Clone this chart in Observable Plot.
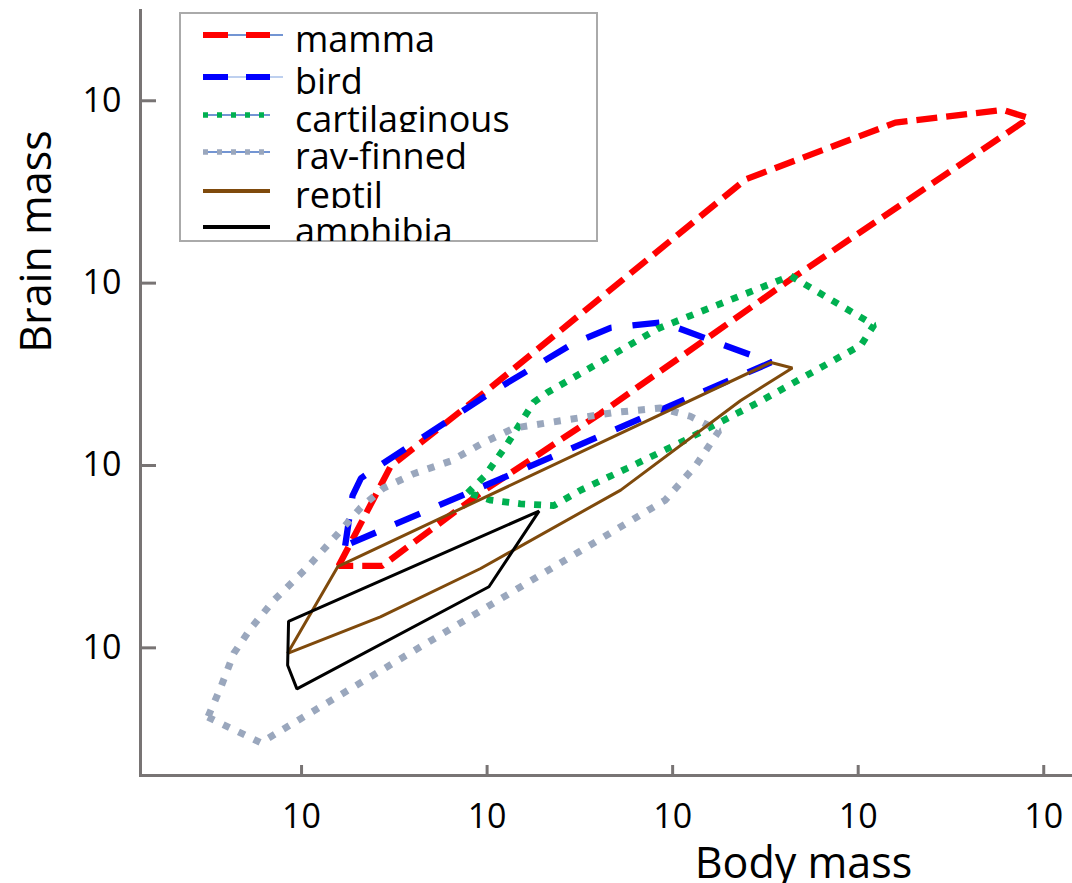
<!DOCTYPE html>
<html><head><meta charset="utf-8">
<script src="https://cdn.jsdelivr.net/npm/d3@7"></script>
<script src="https://cdn.jsdelivr.net/npm/@observablehq/plot@0.6"></script>
<style>
body{margin:0;background:#fff;font-family:"Open Sans",sans-serif;}
#wrap{position:relative;width:1072px;height:883px;overflow:hidden;}
</style></head><body><div id="wrap"></div>
<script>
// ---- data: outline vertices, log10(body mass) / log10(brain mass) ----
const species = ["mamma", "bird", "cartilaginous", "ray-finned", "reptil", "amphibia"];

const mammaBody  = [0.40, 0.96, 2.02, 4.79, 6.40, 7.56, 7.84, 5.27, 3.22, 1.93, 0.87];
const mammaBrain = [-1.10, -0.01, 0.84, 3.14, 3.76, 3.90, 3.81, 2.04, 0.57, -0.30, -1.10];

const birdBody  = [0.47, 0.55, 0.64, 0.77, 2.01, 2.93, 3.33, 3.89, 5.06];
const birdBrain = [-0.88, -0.33, -0.14, -0.05, 0.78, 1.34, 1.51, 1.57, 1.13];

const cartBody  = [1.79, 1.98, 2.22, 2.50, 2.65, 3.84, 5.27, 6.17, 6.03, 4.92, 4.12, 3.51, 3.01, 2.72, 2.36, 2.04];
const cartBrain = [-0.30, -0.11, 0.24, 0.69, 0.80, 1.50, 2.08, 1.54, 1.32, 0.69, 0.27, -0.03, -0.27, -0.44, -0.42, -0.38];

const rayBody  = [-1.01, -0.44, -0.26, 3.92, 4.25, 4.50, 4.19, 3.87, 3.36, 2.79, 2.29, 1.96, 1.61, 1.21, 0.88, 0.64, 0.39, 0.06, -0.30, -0.55, -0.73, -0.87];
const rayBrain = [-2.76, -3.04, -2.93, -0.38, 0.00, 0.38, 0.54, 0.63, 0.58, 0.49, 0.41, 0.25, 0.05, -0.09, -0.25, -0.46, -0.75, -1.12, -1.48, -1.79, -2.06, -2.43];

const reptilBody  = [-0.15, 0.39, 5.06, 5.29, 4.73, 3.44, 1.93, 0.85];
const reptilBrain = [-2.06, -1.11, 1.13, 1.07, 0.71, -0.27, -1.13, -1.66];

const amphBody  = [-0.14, 2.56, 2.02, -0.05, -0.15];
const amphBrain = [-1.71, -0.50, -1.33, -2.45, -2.19];

const xTicks = [1, 1e2, 1e4, 1e6, 1e8];
const yTicks = [1e-2, 1, 1e2, 1e4];
const tickText = "10";
const xTitle = "Body mass";
const yTitle = "Brain mass";

// ---- styles ----
const styles = {
  "mamma":         {stroke: "#ff0000", strokeWidth: 6.3, strokeDasharray: "21,9"},
  "bird":          {stroke: "#0000ff", strokeWidth: 6.3, strokeDasharray: "27,21"},
  "cartilaginous": {stroke: "#00b050", strokeWidth: 6.8, strokeDasharray: "7,9"},
  "ray-finned":    {stroke: "#9aa7bd", strokeWidth: 7, strokeDasharray: "7,10"},
  "reptil":        {stroke: "#7f4a0c", strokeWidth: 3},
  "amphibia":      {stroke: "#000000", strokeWidth: 3}
};
const outlines = {
  "mamma": [mammaBody, mammaBrain],
  "bird": [birdBody, birdBrain],
  "cartilaginous": [cartBody, cartBrain],
  "ray-finned": [rayBody, rayBrain],
  "reptil": [reptilBody, reptilBrain],
  "amphibia": [amphBody, amphBrain]
};
const axisColor = "#787474";

const W = 1072, H = 883, mL = 140, mR = 0, mT = 10, mB = 108;
const plotW = W - mL - mR, plotH = H - mT - mB;

const lineMarks = species.map(s => {
  const [bx, by] = outlines[s];
  const rows = bx.map((b, i) => ({body: 10 ** b, brain: 10 ** by[i]}));
  return Plot.line(rows, {
    x: "body", y: "brain", curve: "linear-closed",
    strokeLinecap: "butt", strokeLinejoin: "miter", ...styles[s]
  });
});

const chart = Plot.plot({
  width: W, height: H,
  marginLeft: mL, marginRight: mR, marginTop: mT, marginBottom: mB,
  style: {fontFamily: '"Open Sans", sans-serif', fontSize: "34px", background: "#fff", color: "#000"},
  x: {type: "log", domain: [10 ** -1.736, 10 ** 8.31]},
  y: {type: "log", domain: [10 ** -3.40, 10 ** 4.99]},
  marks: [
    ...lineMarks,
    Plot.frame({anchor: "left", stroke: axisColor, strokeWidth: 3}),
    Plot.frame({anchor: "bottom", stroke: axisColor, strokeWidth: 3}),
    Plot.tickX(xTicks, {x: d => d, stroke: axisColor, strokeWidth: 3, insetTop: plotH - 10}),
    Plot.tickY(yTicks, {y: d => d, stroke: axisColor, strokeWidth: 3, insetRight: plotW - 16}),
    Plot.axisX({ticks: xTicks, tickFormat: () => tickText, tickSize: 0, tickPadding: 28, label: null, fontSize: 34}),
    Plot.axisY({ticks: yTicks, tickFormat: () => tickText, tickSize: 0, tickPadding: 19, label: null, fontSize: 34}),
    Plot.text([xTitle], {text: d => d, frameAnchor: "bottom", dx: 197, dy: 102, lineAnchor: "bottom", fontSize: 43}),
    Plot.text([yTitle], {text: d => d, frameAnchor: "left", rotate: -90, dx: -90, dy: -151.5, lineAnchor: "bottom", textAnchor: "middle", fontSize: 43})
  ]
});
const wrap = document.getElementById("wrap");
wrap.appendChild(chart);

// ---- legend (overlay) ----
const legendBox = {x: 180, y: 13, w: 417, h: 228};
const rowY = [35, 77, 115, 152, 191, 227];
const sampleX1 = 203, sampleX2 = 270, thinX2 = 283, textX = 295;
const thinColor = {"mamma": "#4472c4", "bird": "#a9c0ea", "cartilaginous": "#4472c4", "ray-finned": "#4472c4"};
const legendDash = {"mamma": "25,18", "bird": "25,18", "cartilaginous": "5,9", "ray-finned": "5,9"};

const lg = d3.create("svg")
  .attr("width", W).attr("height", 260)
  .style("position", "absolute").style("left", "0px").style("top", "0px")
  .style("font-family", '"Open Sans", sans-serif');
const defs = lg.append("defs");
lg.append("rect")
  .attr("x", legendBox.x).attr("y", legendBox.y).attr("width", legendBox.w).attr("height", legendBox.h)
  .attr("fill", "#fff").attr("stroke", "#aaaaaa").attr("stroke-width", 2);

species.forEach((s, i) => {
  const y = rowY[i];
  const st = styles[s];
  if (thinColor[s]) {
    lg.append("line").attr("x1", sampleX1).attr("x2", (s === "mamma" || s === "bird") ? thinX2 : sampleX2)
      .attr("y1", y).attr("y2", y).attr("stroke", thinColor[s]).attr("stroke-width", 1.3);
  }
  lg.append("line").attr("x1", sampleX1).attr("x2", sampleX2).attr("y1", y).attr("y2", y)
    .attr("stroke", st.stroke)
    .attr("stroke-width", legendDash[s] ? (s === "mamma" || s === "bird" ? 6 : 5.5) : 4)
    .attr("stroke-dasharray", legendDash[s] || null);
  const cid = "lgrow" + i;
  defs.append("clipPath").attr("id", cid).append("rect")
    .attr("x", legendBox.x).attr("y", y - 40).attr("width", legendBox.w).attr("height", Math.min(57, legendBox.y + legendBox.h - (y - 40)));
  lg.append("text").attr("x", textX).attr("y", y + 17)
    .attr("font-size", 36).attr("fill", "#000")
    .attr("clip-path", `url(#${cid})`)
    .text(s);
});
wrap.appendChild(lg.node());
</script>
</body></html>
